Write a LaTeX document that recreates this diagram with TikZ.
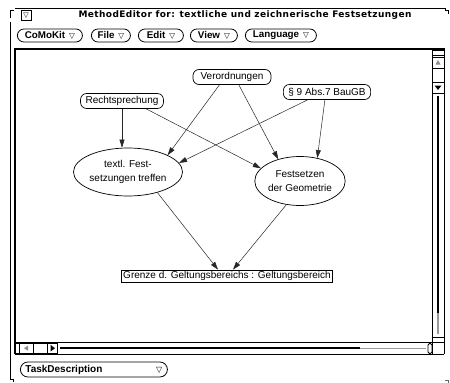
\documentclass[tikz,border=0pt]{standalone}
\usepackage{fontspec}
\setmainfont{Liberation Sans}
\newfontfamily\symfont{DejaVu Sans}
\newfontfamily\titlefont{DejaVu Sans}[LetterSpace=4.5]
\usetikzlibrary{arrows.meta,shapes.geometric,calc}

\tikzset{
  frame/.style={line width=0.8pt, draw=black},
  menubtn/.style={draw, line width=0.8pt, rounded corners=6.5pt, inner sep=0pt,
    minimum height=13pt, anchor=west, font=\bfseries\fontsize{9.8}{10}\selectfont},
  concept/.style={draw, line width=0.7pt, rounded corners=6pt, inner xsep=5pt,
    inner ysep=0pt, minimum height=15pt, font=\fontsize{10}{12}\selectfont},
  task/.style={draw, ellipse, line width=0.7pt, inner sep=0pt, align=center,
    font=\fontsize{10}{13.5}\selectfont},
  product/.style={draw, line width=0.7pt, inner xsep=2pt, inner ysep=0pt,
    minimum height=12pt, font=\fontsize{10}{12}\selectfont},
  flow/.style={-{Triangle[length=8pt,width=5pt]}, line width=0.5pt, draw=black!85},
  dither/.style={line width=1.4pt, draw=black!40},
}

\begin{document}
\begin{tikzpicture}[x=1pt,y=-1pt]
\useasboundingbox (0,0) rectangle (450,383);
\fill[white] (0,0) rectangle (450,383);

% window outline and corner marks
\draw[frame] (10.5,18) -- (10.5,10.5) -- (14,10.5);
\draw[frame] (15,8.5) -- (445,8.5) -- (445,10.5) -- (448,10.5) -- (448,14);
\draw[frame] (10.5,22) -- (10.5,379.5) -- (13.5,379.5) -- (13.5,382);
\draw[frame, draw=black!60] (445,380.5) -- (448,380.5) -- (448,383);

% title bar
\node[draw, line width=0.8pt, minimum size=10pt, inner sep=0pt,
  font=\symfont\fontsize{7}{7}\selectfont] (winmenu) at (26,15.5) {▽};
\node[font=\titlefont\bfseries\fontsize{9}{10}\selectfont] (title) at (245,15.5)
  {MethodEditor for: textliche und zeichnerische Festsetzungen};

% menu buttons
\node[menubtn, minimum width=65pt] (mcomokit) at (17,35.5)
  {CoMoKit\hspace{4pt}{\symfont\mdseries\fontsize{7.5}{8}\selectfont ▽}};
\node[menubtn, minimum width=39pt] (mfile) at (91,35.5)
  {File\hspace{4pt}{\symfont\mdseries\fontsize{7.5}{8}\selectfont ▽}};
\node[menubtn, minimum width=45pt] (medit) at (138,35.5)
  {Edit\hspace{4pt}{\symfont\mdseries\fontsize{7.5}{8}\selectfont ▽}};
\node[menubtn, minimum width=47pt] (mview) at (190,35.5)
  {View\hspace{4pt}{\symfont\mdseries\fontsize{7.5}{8}\selectfont ▽}};
\node[menubtn, minimum width=71pt] (mlang) at (245,35.5)
  {Language\hspace{4pt}{\symfont\mdseries\fontsize{7.5}{8}\selectfont ▽}};

% canvas frame
\draw[line width=2pt] (14.5,354) -- (14.5,48.5) -- (444.5,48.5);
\draw[frame] (15,342.5) -- (444,342.5);
\draw[frame] (15,354) -- (444,354);
\draw[frame] (432,49) -- (432,354);
\draw[frame] (444,49) -- (444,354);

% vertical scrollbar
\draw[frame] (432,50.5) rectangle (444,55);
\draw[frame] (432,57) rectangle (444,68);
\fill[black!45] (438,60) -- (435.5,64.5) -- (440.5,64.5) -- cycle;
\draw[frame] (432,68) rectangle (444,82);
\draw[frame] (432,82) rectangle (444,93);
\fill[black] (438,90) -- (434.5,85.5) -- (441.5,85.5) -- cycle;
\draw[line width=2.5pt] (438,96) -- (438,313);
\draw[dither] (438,313) -- (438,334);
\draw[frame] (432,337) rectangle (444,342.5);

% horizontal scrollbar
\draw[frame] (15,343) rectangle (19.5,353.5);
\draw[frame] (19.5,343) rectangle (33,353.5);
\fill[black!45] (24,348.2) -- (28,345.7) -- (28,350.7) -- cycle;
\draw[frame] (33,343) rectangle (47,353.5);
\draw[frame] (47,343) rectangle (57,353.5);
\fill[black] (55,348.2) -- (50.5,344.8) -- (50.5,351.6) -- cycle;
\draw[line width=2.5pt] (60,348.2) -- (360,348.2);
\draw[dither] (360,348.2) -- (426,348.2);
\draw[frame, rounded corners=1.5pt] (428,343.5) rectangle (432,353.5);

% task selector
\node[menubtn, minimum width=147pt, minimum height=15pt, rounded corners=7.5pt,
  font=\bfseries\fontsize{10}{11}\selectfont] (taskdesc) at (20,369.5)
  {\makebox[137pt]{TaskDescription\hfill{\symfont\mdseries\fontsize{8}{8}\selectfont ▽}}};

% method graph
\node[concept, minimum width=78pt] (verord) at (232,77) {Verordnungen};
\node[concept] (recht) at (122,101) {Rechtsprechung};
\node[concept] (baugb) at (327,92) {§ 9 Abs.7 BauGB};
\node[task, minimum width=95pt, minimum height=48pt] (textl) at (128,172)
  {textl. Fest-\\setzungen treffen};
\node[task, minimum width=85pt, minimum height=49pt] (geom) at (300,181)
  {Festsetzen\\der Geometrie};
\node[product] (grenze) at (227,276) {Grenze d. Geltungsbereichs : Geltungsbereich};

\draw[flow] (recht.south) -- (recht.south |- textl.north);
\draw[flow] (recht.-18) -- (geom.162);
\draw[flow] (verord.-148) -- (textl.23);
\draw[flow] (verord.-49) -- (geom.135);
\draw[flow] (baugb.-158) -- (textl.10);
\draw[flow] (baugb.-105) -- (geom.53);
\draw[flow] (textl.-35) -- ($(grenze.north)+(-9,0)$);
\draw[flow] (geom.-120) -- ($(grenze.north)+(6,0)$);
\end{tikzpicture}
\end{document}
